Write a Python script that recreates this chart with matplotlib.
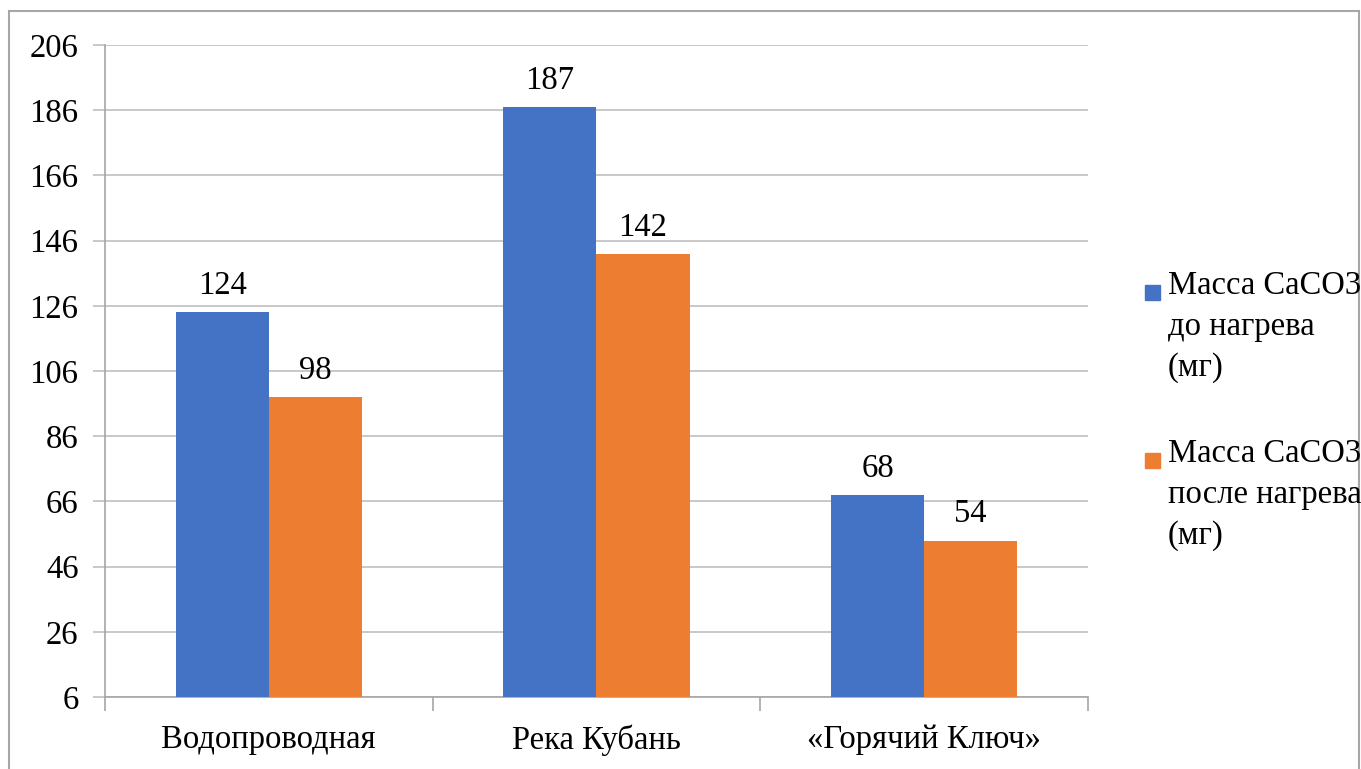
import numpy as np
import matplotlib.pyplot as plt
from matplotlib.patches import Rectangle

plt.rcParams['font.family'] = ['Liberation Serif', 'DejaVu Serif']

# данные
categories = ['Водопроводная', 'Река Кубань', '«Горячий Ключ»']
before = [124, 187, 68]
after = [98, 142, 54]
labels = ['Масса CaCO3\nдо нагрева\n(мг)', 'Масса CaCO3\nпосле нагрева\n(мг)']
colors = ['#4472c4', '#ed7d31']
yticks = np.arange(6, 207, 20)
fs = 23.5

fig = plt.figure(figsize=(13.61, 7.69), dpi=100)
ax = fig.add_axes([0.0771, 0.0936, 0.7223, 0.8479])

x = np.arange(len(categories))
w = 0.284
b1 = ax.bar(x - w/2, before, w, color=colors[0], label=labels[0], zorder=3)
b2 = ax.bar(x + w/2, after, w, color=colors[1], label=labels[1], zorder=3)

for bars, vals in [(b1, before), (b2, after)]:
    for r, v in zip(bars, vals):
        ax.annotate(str(v), (r.get_x() + r.get_width()/2, v), xytext=(0, 8),
                    textcoords='offset points', ha='center', va='bottom', fontsize=fs)

ax.set_ylim(6, 206)
ax.set_xlim(-0.5, 2.5)
ax.set_yticks(yticks)
ax.set_yticklabels([str(t) for t in yticks], fontsize=fs)
ax.yaxis.grid(True, color='#bfbfbf', lw=1.2, zorder=0)
ax.tick_params(axis='y', length=9, color='#bfbfbf', width=1.2, pad=10)

# подписи категорий и засечки на границах групп
ax.set_xticks(np.arange(-0.5, 3, 1))
ax.set_xticklabels([])
ax.set_xticks(x, minor=True)
ax.set_xticklabels(categories, minor=True, fontsize=fs)
ax.tick_params(axis='x', which='major', length=10, color='#a6a6a6', width=1.2)
ax.tick_params(axis='x', which='minor', length=0, pad=20)

for s in ['top', 'right']:
    ax.spines[s].set_visible(False)
for s in ['left', 'bottom']:
    ax.spines[s].set_color('#a6a6a6')
    ax.spines[s].set_linewidth(1.2)

# легенда: квадрат на уровне первой строки подписи
for i, (lab, c) in enumerate(zip(labels, colors)):
    y_top = 1 - (292 + i * 168) / 769
    fig.patches.append(Rectangle((1145/1361, y_top - 8/769), 15/1361, 15/769,
                                 transform=fig.transFigure, color=c))
    fig.text(1168/1361, y_top + 22/769, lab, fontsize=fs, va='top', ha='left',
             linespacing=1.45)

# рамка вокруг диаграммы
fig.patches.append(Rectangle((9/1361, -0.05), 1350/1361, 1 - 11/769 + 0.05,
                             transform=fig.transFigure, fill=False,
                             edgecolor='#a6a6a6', lw=1.5))

fig.savefig('out.png', dpi=100)
